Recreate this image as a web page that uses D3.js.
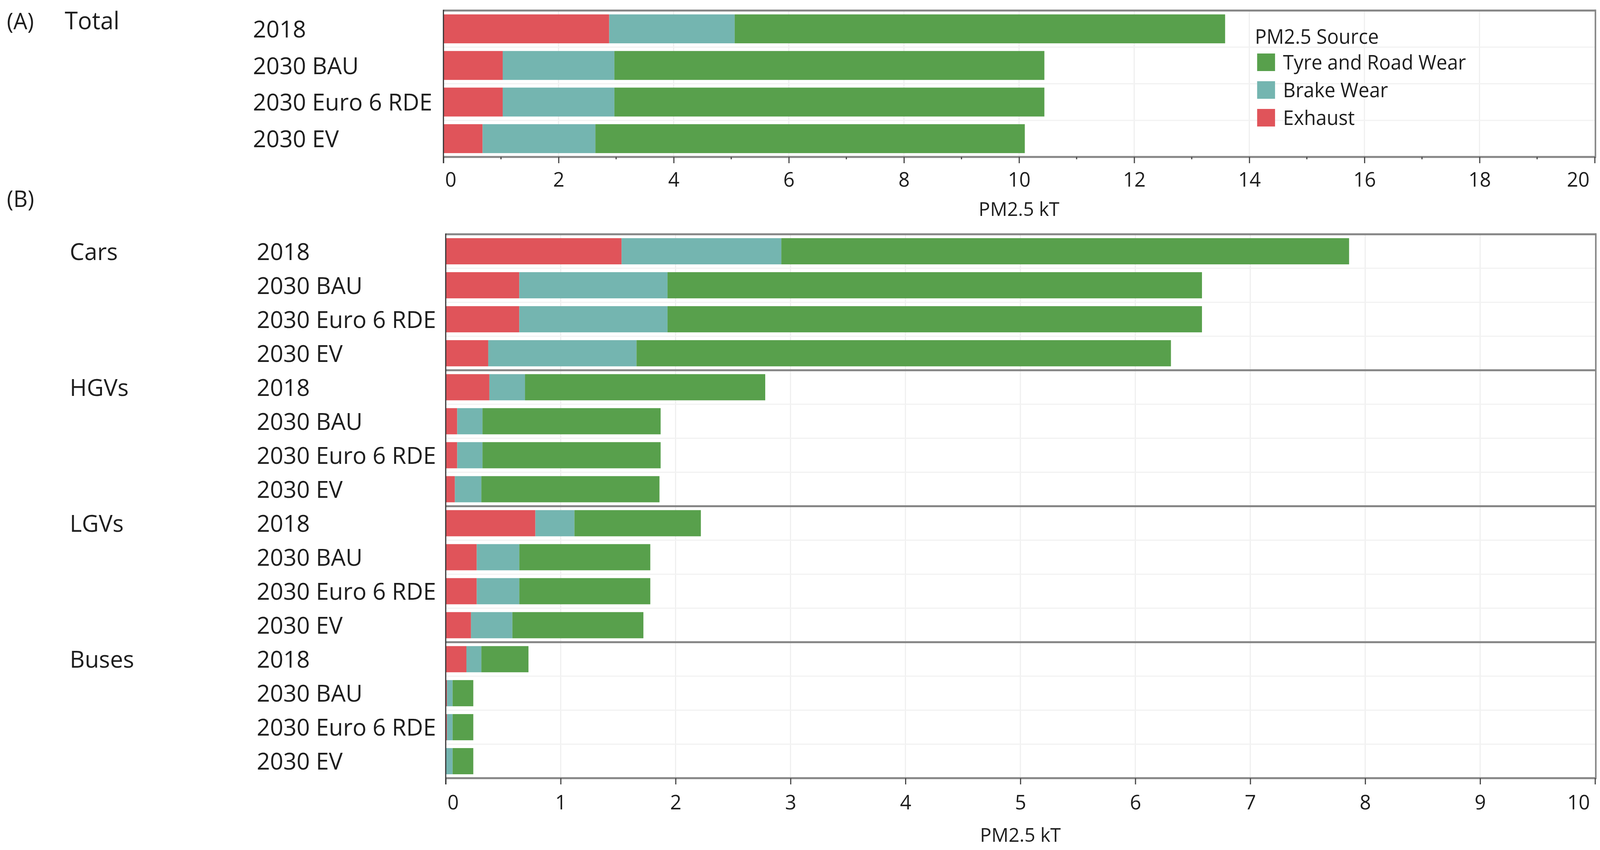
<!DOCTYPE html>
<html>
<head>
<meta charset="utf-8">
<script src="https://cdn.jsdelivr.net/npm/d3@7/dist/d3.min.js"></script>
<style>
  html, body { margin: 0; padding: 0; background: #fff; overflow: hidden; width: 100%; height: 100%; }
  svg { display: block; width: 100vw; height: 100vh; }
  text { font-family: "Open Sans", "Noto Sans", sans-serif; fill: #1e1e1e; }
</style>
</head>
<body>
<svg id="chart" viewBox="0 0 4200 2177" preserveAspectRatio="none"></svg>
<script>
// ---------------- DATA ----------------
const sources = ["Exhaust", "Brake Wear", "Tyre and Road Wear"];
const sourceColors = ["#e0545a", "#74b5b0", "#58a04c"];
const legendOrder = ["Tyre and Road Wear", "Brake Wear", "Exhaust"];
const legendTitle = "PM2.5 Source";

const scenarios = ["2018", "2030 BAU", "2030 Euro 6 RDE", "2030 EV"];

// Panel A: Total
const totalExhaust = [2.88, 1.03, 1.03, 0.68];
const totalBrake   = [2.18, 1.94, 1.94, 1.96];
const totalTyre    = [8.52, 7.47, 7.47, 7.46];

// Panel B: by vehicle type (4 scenarios each)
const vehicles = ["Cars", "HGVs", "LGVs", "Buses"];
const vehExhaust = [1.53, 0.64, 0.64, 0.37,  0.38, 0.10, 0.10, 0.08,  0.78, 0.27, 0.27, 0.22,  0.18, 0.01, 0.01, 0.00];
const vehBrake   = [1.39, 1.29, 1.29, 1.29,  0.31, 0.22, 0.22, 0.23,  0.34, 0.37, 0.37, 0.36,  0.13, 0.05, 0.05, 0.06];
const vehTyre    = [4.94, 4.65, 4.65, 4.65,  2.09, 1.55, 1.55, 1.55,  1.10, 1.14, 1.14, 1.14,  0.41, 0.18, 0.18, 0.18];

const ticksA = [0, 2, 4, 6, 8, 10, 12, 14, 16, 18, 20];
const minorTicksA = [1, 3, 5, 7, 9, 11, 13, 15, 17, 19];
const ticksB = [0, 1, 2, 3, 4, 5, 6, 7, 8, 9, 10];
const axisTitle = "PM2.5 kT";

// ---------------- DRAW ----------------
const svg = d3.select("#chart");
svg.append("rect").attr("width", 4200).attr("height", 2177).attr("fill", "#fff");

const color = d3.scaleOrdinal().domain(sources).range(sourceColors);

function buildRows(ex, br, ty, keys) {
  return keys.map((k, i) => ({ key: k, "Exhaust": ex[i], "Brake Wear": br[i], "Tyre and Road Wear": ty[i] }));
}

function drawPanel(o) {
  const g = svg.append("g");
  const x = d3.scaleLinear().domain(o.domain).range([o.left, o.right]);
  const y = d3.scaleBand().domain(o.rows.map(d => d.key)).range([o.top, o.bottom]).paddingInner(o.pad).paddingOuter(o.pad / 2);
  const step = y.step();

  // vertical gridlines
  g.append("g").selectAll("line").data(o.grid).join("line")
    .attr("x1", d => x(d)).attr("x2", d => x(d))
    .attr("y1", o.top).attr("y2", o.bottom)
    .attr("stroke", "#efefef").attr("stroke-width", 3);

  // faint horizontal row separators
  g.append("g").selectAll("line").data(o.rows.slice(1)).join("line")
    .attr("x1", o.left).attr("x2", o.right)
    .attr("y1", (d, i) => o.top + (i + 1) * step).attr("y2", (d, i) => o.top + (i + 1) * step)
    .attr("stroke", "#f2f2f2").attr("stroke-width", 3);

  // stacked bars
  const stack = d3.stack().keys(sources);
  const series = stack(o.rows);
  g.append("g").selectAll("g").data(series).join("g")
    .attr("fill", d => color(d.key))
    .selectAll("rect").data(d => d).join("rect")
      .attr("x", d => x(d[0]))
      .attr("width", d => Math.max(0, x(d[1]) - x(d[0])))
      .attr("y", d => y(d.data.key))
      .attr("height", y.bandwidth());

  // frame lines (top, bottom, separators, right)
  const hLines = [o.top, o.bottom].concat(o.separators.map(s => o.top + s * step));
  g.append("g").selectAll("line").data(hLines).join("line")
    .attr("x1", o.left).attr("x2", o.right + 2)
    .attr("y1", d => d).attr("y2", d => d)
    .attr("stroke", "#858585").attr("stroke-width", 5);
  g.append("line")
    .attr("x1", o.right + 2).attr("x2", o.right + 2)
    .attr("y1", o.top - 2.5).attr("y2", o.bottom + 2.5)
    .attr("stroke", "#858585").attr("stroke-width", 4);

  // x axis
  const axis = d3.axisBottom(x).tickValues(o.ticks).tickSize(16).tickFormat(d3.format("d"));
  const ax = g.append("g").attr("transform", `translate(0,${o.bottom})`).call(axis);
  ax.select(".domain").remove();
  ax.selectAll(".tick line").attr("stroke", "#444").attr("stroke-width", 3);
  ax.selectAll(".tick text")
    .attr("y", 0).attr("dy", 0)
    .attr("transform", `translate(0,${o.labelBaseline})`)
    .style("font-size", "52px").style("font-family", '"Open Sans", sans-serif').attr("fill", "#2a2a2a")
    .attr("text-anchor", (d, i) => i === 0 ? "start" : (i === o.ticks.length - 1 ? "end" : "middle"))
    .attr("dx", (d, i) => i === 0 ? 4 : (i === o.ticks.length - 1 ? -14 : 0));
  if (o.minor) {
    g.append("g").selectAll("line").data(o.minor).join("line")
      .attr("x1", d => x(d)).attr("x2", d => x(d))
      .attr("y1", o.bottom).attr("y2", o.bottom + 6)
      .attr("stroke", "#444").attr("stroke-width", 3);
  }

  // left axis line
  g.append("line")
    .attr("x1", o.left).attr("x2", o.left)
    .attr("y1", o.top - 2).attr("y2", o.bottom + 16)
    .attr("stroke", "#333").attr("stroke-width", 3);

  // axis title
  g.append("text")
    .attr("x", (o.left + o.right) / 2).attr("y", o.titleBaseline)
    .attr("text-anchor", "middle").style("font-size", "50px").attr("fill", "#2a2a2a")
    .text(axisTitle);

  // category labels
  g.append("g").selectAll("text").data(o.rows).join("text")
    .attr("x", o.catX)
    .attr("y", d => y(d.key) + y.bandwidth() / 2 + 22)
    .style("font-size", "61px")
    .text(d => d.label);

  return { x, y };
}

// Panel A
const rowsA = buildRows(totalExhaust, totalBrake, totalTyre, scenarios.map((s, i) => "A" + i));
rowsA.forEach((r, i) => r.label = scenarios[i]);
const pA = drawPanel({
  rows: rowsA, domain: [0, 20], left: 1164, right: 4186, top: 27, bottom: 402, pad: 0.21,
  ticks: ticksA, minor: minorTicksA, grid: ticksA.slice(1, -1), separators: [],
  labelBaseline: 76, titleBaseline: 553, catX: 664
});

// Panel B
const keysB = [];
vehicles.forEach((v, vi) => scenarios.forEach((s, si) => keysB.push(v + "|" + s)));
const rowsB = buildRows(vehExhaust, vehBrake, vehTyre, keysB);
rowsB.forEach((r, i) => r.label = scenarios[i % 4]);
const pB = drawPanel({
  rows: rowsB, domain: [0, 10], left: 1170, right: 4187, top: 600, bottom: 1993, pad: 0.23,
  ticks: ticksB, minor: null, grid: ticksB.slice(1, -1), separators: [4, 8, 12],
  labelBaseline: 80, titleBaseline: 2156, catX: 674
});

// Group labels
svg.append("g").selectAll("text").data(vehicles).join("text")
  .attr("x", 183)
  .attr("y", (d, i) => pB.y(d + "|" + scenarios[0]) + pB.y.bandwidth() / 2 + 22)
  .style("font-size", "61px")
  .text(d => d);

// Panel letters and Total label
svg.append("text").attr("x", 18).attr("y", 75).style("font-size", "58px").text("(A)");
svg.append("text").attr("x", 170).attr("y", 75).style("font-size", "62px").text("Total");
svg.append("text").attr("x", 18).attr("y", 530).style("font-size", "58px").text("(B)");

// Legend
const lg = svg.append("g");
lg.append("text").attr("x", 3294).attr("y", 112).style("font-size", "51px").attr("fill", "#2a2a2a").text(legendTitle);
const legendY = [160, 231, 302];
legendOrder.forEach((s, i) => {
  lg.append("rect").attr("x", 3300).attr("y", legendY[i] - 23).attr("width", 47).attr("height", 45).attr("fill", color(s));
  lg.append("text").attr("x", 3368).attr("y", legendY[i] + 18).style("font-size", "51px").attr("fill", "#2a2a2a").text(s);
});
</script>
</body>
</html>
